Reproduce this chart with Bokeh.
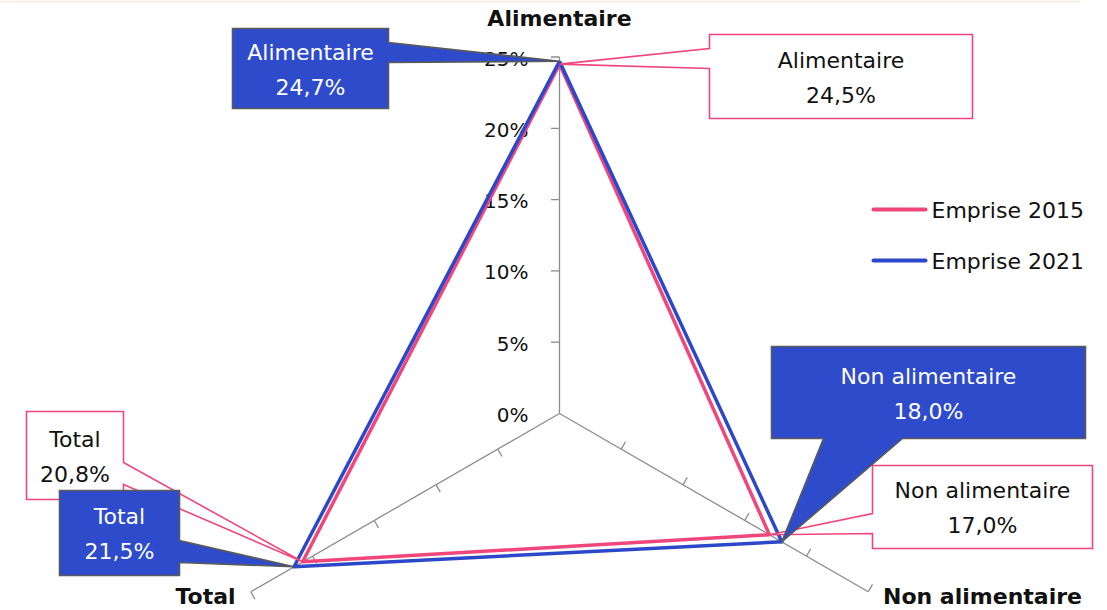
import math
from bokeh.plotting import figure
from bokeh.models import Range1d
from bokeh.embed import file_html
from bokeh.resources import INLINE
from bokeh.core.properties import value

# ---------------- data ----------------
categories = ["Alimentaire", "Non alimentaire", "Total"]
emprise_2015 = [24.5, 17.0, 20.8]
emprise_2021 = [24.7, 18.0, 21.5]
series_names = ["Emprise 2015", "Emprise 2021"]
tick_values = [0, 5, 10, 15, 20, 25]
tick_labels = ["0%", "5%", "10%", "15%", "20%", "25%"]

# ---------------- layout / style ----------------
W, H = 1107, 610
CX, CY = 559, 413          # radar centre in screen pixels
S = 14.26                  # pixels per percentage point
ANGLES = [90, -30, 210]    # direction of each category axis (degrees)
PINK = "#F0467B"
BLUE = "#2C48CA"
BOX_BLUE = "#2E4BCC"
AXIS_GREY = "#8C8C8C"
FONT = "DejaVu Sans"


def px(x, y):
    """screen pixel -> data coordinates"""
    return ((x - CX) / S, (CY - y) / S)


def polar(v, a):
    r = math.radians(a)
    return (v * math.cos(r), v * math.sin(r))


p = figure(width=W, height=H,
           x_range=Range1d(-CX / S, (W - CX) / S),
           y_range=Range1d(-(H - CY) / S, CY / S),
           x_axis_type=None, y_axis_type=None,
           output_backend="svg", toolbar_location=None, min_border=0)
p.grid.visible = False
p.outline_line_color = None
p.background_fill_color = "white"

# faint strip at top
x0, y0 = px(0, 0)
x1, y1 = px(1080, 2)
p.quad(left=x0, right=x1, top=y0, bottom=y1, fill_color="#FDEAE3", line_color=None)

# ---------------- radar axes + ticks ----------------
rmax = tick_values[-1]
ax_x0, ax_y0, ax_x1, ax_y1 = [], [], [], []
tk_x0, tk_y0, tk_x1, tk_y1 = [], [], [], []
for a in ANGLES:
    ex, ey = polar(rmax, a)
    ax_x0.append(0); ax_y0.append(0); ax_x1.append(ex); ax_y1.append(ey)
    r = math.radians(a)
    perp = (-math.sin(r), math.cos(r))
    tl = 8.5 / S
    for t in tick_values[1:]:
        tx, ty = polar(t, a)
        tk_x0.append(tx); tk_y0.append(ty)
        tk_x1.append(tx + perp[0] * tl); tk_y1.append(ty + perp[1] * tl)
p.segment(ax_x0, ax_y0, ax_x1, ax_y1, line_color=AXIS_GREY, line_width=1.3)
p.segment(tk_x0, tk_y0, tk_x1, tk_y1, line_color=AXIS_GREY, line_width=1.3)

# tick labels along vertical axis
lab_x = [(528 - CX) / S] * len(tick_values)
lab_y = [t - 1.5 / S for t in tick_values]
p.text(lab_x, lab_y, text=tick_labels, text_align="right", text_baseline="middle",
       text_font=value(FONT), text_font_size="20px", text_color="#111111")

# ---------------- series ----------------
def series_xy(vals):
    xs, ys = [], []
    for v, a in zip(vals, ANGLES):
        x, y = polar(v, a)
        xs.append(x); ys.append(y)
    return xs + xs[:1], ys + ys[:1]

xs15, ys15 = series_xy(emprise_2015)
xs21, ys21 = series_xy(emprise_2021)
p.line(xs15, ys15, line_color=PINK, line_width=3.5, line_join="round")
p.line(xs21, ys21, line_color=BLUE, line_width=3.5, line_join="round")

# ---------------- callouts ----------------
# box (left, top, right, bottom) in px, wedge side, wedge base (a, b) in px
callout_layout = {
    ("Emprise 2015", "Alimentaire"): ((709, 34, 972, 118), "left", (48, 68)),
    ("Emprise 2021", "Alimentaire"): ((232, 28, 388, 108), "right", (42, 62)),
    ("Emprise 2021", "Non alimentaire"): ((771, 346, 1085, 438), "bottom", (823, 902)),
    ("Emprise 2015", "Non alimentaire"): ((872, 465, 1092, 548), "left", (513, 533)),
    ("Emprise 2015", "Total"): ((26, 411, 123, 499), "right", (462, 484)),
    ("Emprise 2021", "Total"): ((59, 490, 179, 575), "right", (540, 562)),
}


def callout_poly(box, side, base, tip):
    l, t, r, b = box
    tx, ty = tip
    pts = []
    if side == "left":
        pts = [px(l, t), px(r, t), px(r, b), px(l, b), px(l, base[1]), (tx, ty), px(l, base[0])]
    elif side == "right":
        pts = [px(l, t), px(r, t), px(r, base[0]), (tx, ty), px(r, base[1]), px(r, b), px(l, b)]
    elif side == "bottom":
        pts = [px(l, t), px(r, t), px(r, b), px(base[1], b), (tx, ty), px(base[0], b), px(l, b)]
    return [q[0] for q in pts], [q[1] for q in pts]


def fmt(v):
    return f"{v:.1f}".replace(".", ",") + "%"


for sname, vals, fill, line, tcol in [
        ("Emprise 2015", emprise_2015, "white", PINK, "#111111"),
        ("Emprise 2021", emprise_2021, BOX_BLUE, "#5A5A5A", "white")]:
    pxs, pys, tx_, ty_, tt_ = [], [], [], [], []
    for cat, v, a in zip(categories, vals, ANGLES):
        box, side, base = callout_layout[(sname, cat)]
        tip = polar(v, a)
        xs, ys = callout_poly(box, side, base, tip)
        pxs.append(xs); pys.append(ys)
        cxp = (box[0] + box[2]) / 2
        cyp = (box[1] + box[3]) / 2 + 1
        for txt, dy in [(cat, -17.5), (fmt(v), 17.5)]:
            dx_, dy_ = px(cxp, cyp + dy)
            tx_.append(dx_); ty_.append(dy_); tt_.append(txt)
    p.patches(pxs, pys, fill_color=fill, line_color=line, line_width=1.6, line_join="miter")
    p.text(tx_, ty_, text=tt_, text_align="center", text_baseline="middle",
           text_font=value(FONT), text_font_size="22px", text_color=tcol)

# ---------------- category labels ----------------
cat_pos = [(559, 18), (982, 596), (205, 596)]
cx_ = [px(*c)[0] for c in cat_pos]
cy_ = [px(*c)[1] for c in cat_pos]
p.text(cx_, cy_, text=categories, text_align="center", text_baseline="middle",
       text_font=value(FONT), text_font_size="22px", text_font_style="bold",
       text_color="#111111")

# ---------------- legend ----------------
leg_y = [209, 260]
for name, col, ly in zip(series_names, [PINK, BLUE], leg_y):
    a0 = px(873, ly); a1 = px(925, ly)
    p.line([a0[0], a1[0]], [a0[1], a1[1]], line_color=col, line_width=4, line_cap="round")
    t0 = px(931, ly + 1)
    p.text([t0[0]], [t0[1]], text=[name], text_align="left", text_baseline="middle",
           text_font=value(FONT), text_font_size="22px", text_color="#111111")

open("out.html", "w").write(file_html(p, INLINE))
